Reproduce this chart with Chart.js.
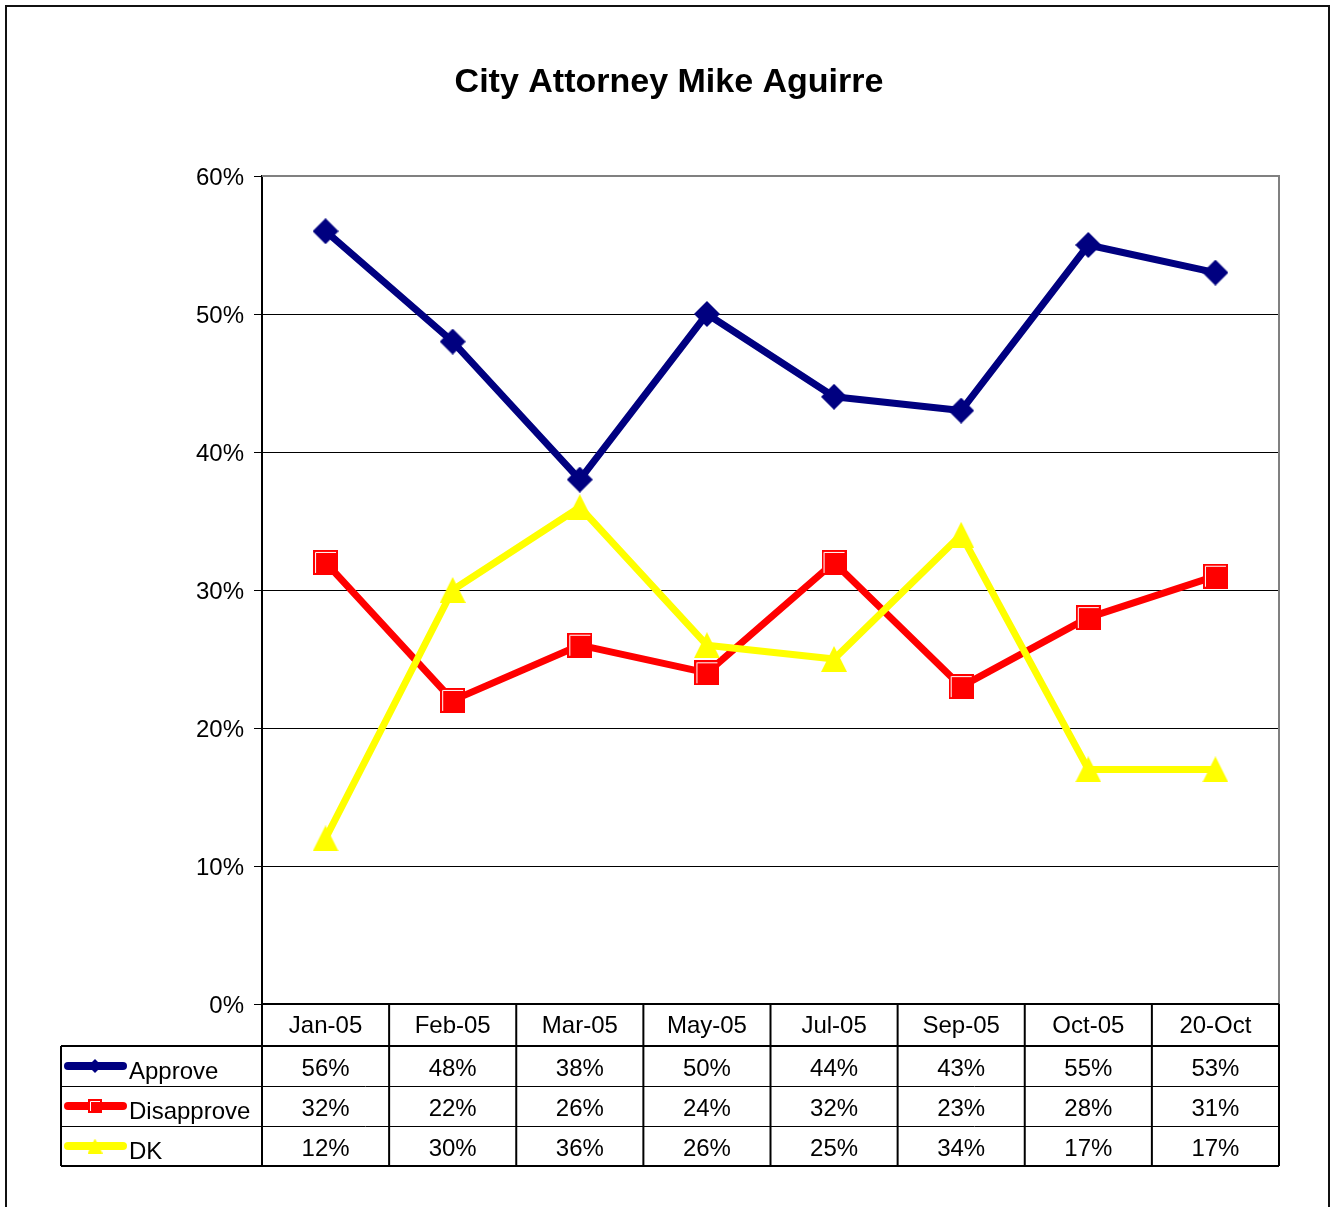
<!DOCTYPE html>
<html>
<head>
<meta charset="utf-8">
<title>City Attorney Mike Aguirre</title>
<script src="https://cdn.jsdelivr.net/npm/chart.js@4.4.1/dist/chart.umd.min.js"></script>
<style>
  html, body { margin: 0; padding: 0; background: #fff; overflow: hidden; }
  canvas { display: block; }
</style>
</head>
<body>
<canvas id="chart" width="1330" height="1207"></canvas>
<script>
// data
const months = ["Jan-05", "Feb-05", "Mar-05", "May-05", "Jul-05", "Sep-05", "Oct-05", "20-Oct"];
const approve = [0.56, 0.48, 0.38, 0.50, 0.44, 0.43, 0.55, 0.53];
const disapprove = [0.32, 0.22, 0.26, 0.24, 0.32, 0.23, 0.28, 0.31];
const dk = [0.12, 0.30, 0.36, 0.26, 0.25, 0.34, 0.17, 0.17];
const seriesNames = ["Approve", "Disapprove", "DK"];
const seriesColors = ["#000080", "#ff0000", "#ffff00"];
const seriesShapes = ["diamond", "square", "triangle"];

const FONT = '"Liberation Sans", Arial, sans-serif';

// Excel-like markers as small canvases
function makeMarker(shape, color, s) {
  const c = document.createElement("canvas");
  c.width = s; c.height = s;
  const g = c.getContext("2d");
  g.fillStyle = color;
  if (shape === "diamond") {
    g.beginPath();
    g.moveTo(s / 2, 0); g.lineTo(s, s / 2); g.lineTo(s / 2, s); g.lineTo(0, s / 2);
    g.closePath(); g.fill();
  } else if (shape === "square") {
    g.fillRect(0, 0, s, s);
    g.strokeStyle = "#fff";
    g.lineWidth = 1;
    g.beginPath();
    g.moveTo(2.5, s - 2); g.lineTo(2.5, 2.5); g.lineTo(s - 2, 2.5);
    g.stroke();
  } else {
    g.beginPath();
    g.moveTo(s / 2, 0); g.lineTo(s, s); g.lineTo(0, s);
    g.closePath(); g.fill();
  }
  return c;
}

const bigSizes = [26, 25, 26];
const smallSizes = [14, 14, 15];
const markers = seriesShapes.map((sh, i) => makeMarker(sh, seriesColors[i], bigSizes[i]));
const legendMarkers = seriesShapes.map((sh, i) => makeMarker(sh, seriesColors[i], smallSizes[i]));
const values = [approve, disapprove, dk];

const tablePlugin = {
  id: "excelTable",
  beforeDatasetsDraw(chart) {
    const { ctx, chartArea: a } = chart;
    ctx.save();
    // gray plot border (top + right)
    ctx.strokeStyle = "#808080";
    ctx.lineWidth = 2;
    ctx.beginPath();
    ctx.moveTo(a.left, a.top);
    ctx.lineTo(a.right, a.top);
    ctx.lineTo(a.right, a.bottom);
    ctx.stroke();
    ctx.restore();
  },
  afterDraw(chart) {
    const { ctx, chartArea: a } = chart;
    const xs = chart.scales.x;
    ctx.save();

    // outer frame
    ctx.strokeStyle = "#111";
    ctx.lineWidth = 2;
    ctx.beginPath();
    ctx.moveTo(6, 1207); ctx.lineTo(6, 6); ctx.lineTo(1329, 6); ctx.lineTo(1329, 1207);
    ctx.stroke();

    // title
    ctx.fillStyle = "#000";
    ctx.font = "bold 34px " + FONT;
    ctx.textAlign = "center";
    ctx.textBaseline = "middle";
    ctx.fillText("City Attorney Mike Aguirre", 669, 83);

    // table geometry
    const headTop = a.bottom, headBot = 1046;
    const rowH = 40;
    const tableLeft = 61;
    const bottom = headBot + rowH * 3;
    const bounds = [a.left];
    for (let i = 0; i < months.length - 1; i++) {
      bounds.push((xs.getPixelForValue(i) + xs.getPixelForValue(i + 1)) / 2);
    }
    bounds.push(a.right);

    ctx.strokeStyle = "#000";
    ctx.lineWidth = 2;
    ctx.beginPath();
    ctx.moveTo(a.left, headTop); ctx.lineTo(a.right, headTop);
    ctx.moveTo(tableLeft, headBot); ctx.lineTo(a.right, headBot);
    ctx.moveTo(tableLeft, bottom); ctx.lineTo(a.right, bottom);
    ctx.moveTo(tableLeft, headBot); ctx.lineTo(tableLeft, bottom);
    bounds.forEach(b => { ctx.moveTo(b, headTop); ctx.lineTo(b, bottom); });
    ctx.stroke();
    ctx.lineWidth = 1;
    ctx.beginPath();
    for (let r = 1; r < 3; r++) {
      const y = Math.round(headBot + rowH * r) + 0.5;
      ctx.moveTo(tableLeft, y); ctx.lineTo(a.right, y);
    }
    ctx.stroke();

    // header labels
    ctx.font = "24px " + FONT;
    ctx.textAlign = "center";
    ctx.textBaseline = "middle";
    months.forEach((m, i) => ctx.fillText(m, xs.getPixelForValue(i), (headTop + headBot) / 2 + 1));

    // rows
    values.forEach((vals, r) => {
      const cy = headBot + rowH * r + rowH / 2;
      // legend key
      ctx.strokeStyle = seriesColors[r];
      ctx.lineWidth = 8;
      ctx.lineCap = "round";
      ctx.beginPath();
      ctx.moveTo(68, cy); ctx.lineTo(123, cy);
      ctx.stroke();
      const lm = legendMarkers[r];
      ctx.drawImage(lm, 95 - lm.width / 2, cy - lm.height / 2);
      ctx.fillStyle = "#000";
      ctx.textAlign = "left";
      ctx.fillText(seriesNames[r], 129, cy + 6);
      ctx.textAlign = "center";
      vals.forEach((v, i) => ctx.fillText(Math.round(v * 100) + "%", xs.getPixelForValue(i), cy + 3));
    });
    ctx.restore();
  }
};

new Chart(document.getElementById("chart"), {
  type: "line",
  data: {
    labels: months,
    datasets: values.map((vals, i) => ({
      label: seriesNames[i],
      data: vals,
      borderColor: seriesColors[i],
      backgroundColor: seriesColors[i],
      borderWidth: 7,
      borderJoinStyle: "round",
      borderCapStyle: "round",
      tension: 0,
      pointStyle: markers[i],
      pointRadius: 12,
      order: 2 - i
    }))
  },
  options: {
    responsive: false,
    animation: false,
    devicePixelRatio: 1,
    layout: { padding: { left: 182, top: 176, right: 51, bottom: 203 } },
    plugins: {
      legend: { display: false },
      title: { display: false },
      tooltip: { enabled: false }
    },
    scales: {
      x: { type: "category", offset: true, display: false },
      y: {
        min: 0,
        max: 0.6,
        afterFit(scale) { scale.width = 80; },
        ticks: {
          stepSize: 0.1,
          padding: 10,
          labelOffset: 2,
          color: "#000",
          font: { family: FONT, size: 24 },
          callback: v => Math.round(v * 100) + "%"
        },
        grid: {
          color: c => (c.tick && Math.abs(c.tick.value - 0.6) < 1e-6) ? "#808080" : "#000",
          lineWidth: 1,
          tickColor: "#000",
          tickLength: 8,
          drawTicks: true
        },
        border: { display: true, color: "#000", width: 2 }
      }
    }
  },
  plugins: [tablePlugin]
});
</script>
</body>
</html>
